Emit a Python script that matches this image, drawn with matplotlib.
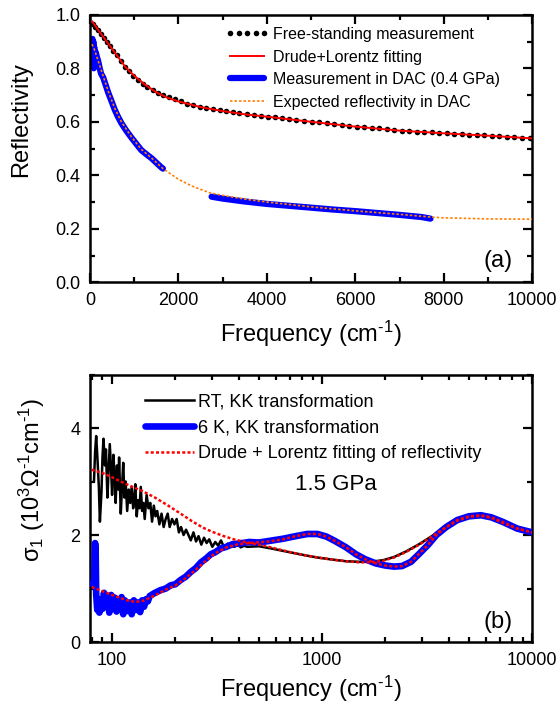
import numpy as np
import matplotlib
matplotlib.use("Agg")
import matplotlib.pyplot as plt
from matplotlib.ticker import MultipleLocator, LogLocator, NullFormatter, FixedLocator

plt.rcParams['font.family'] = ['Liberation Sans', 'DejaVu Sans']
plt.rcParams['mathtext.fontset'] = 'custom'
plt.rcParams['mathtext.rm'] = 'Liberation Sans'
plt.rcParams['mathtext.it'] = 'Liberation Sans'
plt.rcParams['mathtext.default'] = 'regular'

# ---- panel (a): reflectivity ----
fs_freq = [60, 110, 170, 240, 310, 380, 450, 530, 610, 700, 790, 880, 980, 1080,
           1190, 1300, 1420, 1540, 1660, 1790, 1920, 2060, 2200, 2340, 2480, 2630,
           2780, 2930, 3080, 3230, 3380, 3540, 3700, 3860, 4020, 4180, 4340, 4500,
           4670, 4840, 5010, 5180, 5350, 5520, 5690, 5860, 6030, 6200, 6370, 6540,
           6710, 6880, 7050, 7220, 7390, 7560, 7730, 7900, 8070, 8240, 8410, 8580,
           8750, 8920, 9090, 9260, 9430, 9600, 9770, 9940]
fs_refl = [0.965, 0.955, 0.943, 0.928, 0.912, 0.898, 0.885, 0.866, 0.848, 0.826,
           0.806, 0.790, 0.772, 0.758, 0.742, 0.730, 0.718, 0.708, 0.699, 0.691,
           0.684, 0.676, 0.667, 0.661, 0.656, 0.651, 0.647, 0.643, 0.640, 0.636,
           0.632, 0.628, 0.625, 0.622, 0.619, 0.617, 0.613, 0.610, 0.607, 0.604,
           0.601, 0.598, 0.594, 0.591, 0.588, 0.585, 0.582, 0.580, 0.577, 0.575,
           0.572, 0.570, 0.567, 0.565, 0.563, 0.561, 0.560, 0.558, 0.557, 0.555,
           0.553, 0.552, 0.550, 0.549, 0.548, 0.546, 0.545, 0.543, 0.541, 0.539]

fit_freq = [50, 200, 400, 600, 800, 1000, 1250, 1500, 1750, 2000, 2500, 3000,
            3500, 4000, 5000, 6000, 7000, 8000, 9000, 10000]
fit_refl = [0.975, 0.94, 0.895, 0.85, 0.805, 0.772, 0.738, 0.71, 0.69, 0.676,
            0.655, 0.64, 0.628, 0.619, 0.60, 0.582, 0.567, 0.557, 0.548, 0.538]

dac_lo_freq = [45, 55, 65, 75, 85, 95, 110, 130, 160, 180, 220, 250, 300, 350,
               410, 480, 560, 630, 710, 820, 940, 1050, 1160, 1280, 1390, 1500,
               1610, 1650]
dac_lo_refl = [0.88, 0.91, 0.83, 0.90, 0.80, 0.88, 0.82, 0.86, 0.84, 0.83, 0.80,
               0.78, 0.765, 0.74, 0.71, 0.68, 0.645, 0.62, 0.595, 0.567, 0.54,
               0.517, 0.494, 0.478, 0.464, 0.447, 0.43, 0.425]
dac_hi_freq = [2750, 3000, 3500, 4000, 4500, 5000, 5500, 6000, 6500, 7000, 7500, 7700]
dac_hi_refl = [0.32, 0.313, 0.302, 0.293, 0.286, 0.279, 0.272, 0.266, 0.259,
               0.252, 0.244, 0.238]

exp_freq = [45, 100, 200, 300, 410, 560, 710, 940, 1160, 1390, 1650, 2000, 2300,
            2700, 3000, 3500, 4000, 5000, 6000, 7000, 7700, 8000, 9000, 10000]
exp_refl = [0.89, 0.87, 0.82, 0.77, 0.715, 0.65, 0.60, 0.543, 0.497, 0.465, 0.425,
            0.385, 0.36, 0.335, 0.325, 0.311, 0.30, 0.282, 0.267, 0.254, 0.244,
            0.241, 0.237, 0.236]

# ---- panel (b): optical conductivity (10^3 Ohm^-1 cm^-1) ----
rt_freq = [82, 83, 84, 85, 86.5, 87.5, 89, 90, 91, 92.5, 93.5, 95, 96, 97.5, 99,
           100, 101.5, 103, 104, 105.5, 107, 108, 110, 111.5, 113, 114.5, 116, 118,
           120, 122, 124, 126, 128, 129, 131, 133, 135, 137, 139, 141, 143, 146,
           149, 152, 155, 158, 161, 164, 168, 172, 176, 180, 184, 188, 193, 198,
           203, 208, 213, 219, 225, 231, 237, 244, 251, 258, 266, 274, 282, 290,
           300, 310, 320, 330, 342, 355, 368, 382, 396, 410, 425, 440,
           500, 570, 640, 720, 820, 950, 1100, 1300, 1500, 1700, 1950, 2200, 2500,
           2900, 3300, 3800, 4400, 5000, 5700, 6400, 7300, 8500, 10000]
rt_sigma = [3.0, 3.55, 3.85, 3.5, 2.9, 2.25, 2.8, 3.45, 3.8, 3.3, 3.6, 2.7, 3.1,
            3.7, 3.2, 2.75, 3.5, 3.0, 2.6, 3.3, 2.85, 3.45, 2.4, 2.9, 3.35, 2.7,
            3.0, 2.45, 2.85, 2.6, 2.9, 2.5, 2.75, 2.95, 2.35, 2.65, 2.5, 2.9, 2.45,
            2.6, 2.3, 2.75, 2.5, 2.6, 2.25, 2.55, 2.35, 2.45, 2.2, 2.4, 2.15, 2.3,
            2.4, 2.15, 2.3, 2.2, 2.3, 2.05, 2.15, 2.0, 2.1, 2.0, 1.9, 2.05, 1.88,
            1.98, 1.82, 1.95, 1.85, 1.92, 1.78, 1.87, 1.8, 1.9, 1.76, 1.84, 1.8,
            1.78, 1.82, 1.77, 1.8, 1.78,
            1.79, 1.75, 1.71, 1.67, 1.625, 1.58, 1.545, 1.51, 1.50, 1.50, 1.53,
            1.59, 1.69, 1.83, 1.97, 2.13, 2.28, 2.35, 2.36, 2.32, 2.22, 2.12, 2.05]

lt_freq = [81, 82, 83, 83.5, 84, 85, 86, 87, 88.5, 90, 91.5, 93, 95, 97, 99, 101,
           103, 105, 107, 109, 111, 113, 115, 118, 121, 124, 127, 130, 133, 136,
           139, 142, 145, 148, 151, 160, 170, 180, 190, 200, 212, 224, 237, 250,
           265, 280, 295, 310, 330, 350, 375, 400, 450, 500, 560, 650, 750, 850,
           950, 1050, 1150, 1300, 1450, 1600, 1800, 2000, 2200, 2400, 2650, 2900,
           3200, 3500, 3900, 4400, 5000, 5700, 6400, 7300, 8500, 10000]
lt_sigma = [1.1, 1.05, 1.85, 1.7, 0.9, 0.6, 0.75, 0.55, 0.8, 0.62, 0.92, 0.68, 0.85,
            0.55, 0.88, 0.62, 0.83, 0.57, 0.8, 0.64, 0.84, 0.52, 0.78, 0.58, 0.74,
            0.52, 0.78, 0.6, 0.74, 0.56, 0.78, 0.66, 0.8, 0.76, 0.86, 0.92, 0.97,
            1.0, 1.06, 1.08, 1.16, 1.22, 1.31, 1.38, 1.49, 1.56, 1.64, 1.68, 1.75,
            1.78, 1.83, 1.84, 1.87, 1.86, 1.89, 1.93, 1.98, 2.02, 2.02, 1.97, 1.89,
            1.77, 1.64, 1.55, 1.47, 1.43, 1.41, 1.42, 1.5, 1.65, 1.82, 2.0, 2.15,
            2.28, 2.35, 2.37, 2.33, 2.24, 2.12, 2.05]

rtfit_freq = [80, 90, 100, 110, 125, 140, 160, 185, 210, 240, 270, 300, 340, 380,
              430, 500, 570, 640, 720, 820, 950, 1100, 1300, 1500, 1700, 1950,
              2200, 2500, 2900, 3300, 3800, 4400, 5000, 5700, 6400, 7300, 8500, 10000]
rtfit_sigma = [3.22, 3.16, 3.08, 3.0, 2.9, 2.82, 2.7, 2.55, 2.41, 2.26, 2.14, 2.06,
               1.98, 1.92, 1.87, 1.82, 1.77, 1.72, 1.67, 1.625, 1.58, 1.545, 1.51,
               1.49, 1.49, 1.52, 1.58, 1.68, 1.82, 1.96, 2.12, 2.27, 2.34, 2.36,
               2.32, 2.22, 2.12, 2.05]

ltfit_freq = [80, 90, 100, 110, 120, 130, 140, 150, 165, 180, 200, 225, 250, 280,
              310, 350, 400, 480, 560, 650, 750, 850, 950, 1050, 1150, 1300, 1450,
              1600, 1800, 2000, 2200, 2400, 2650, 2900, 3200, 3500, 3900, 4400,
              5000, 5700, 6400, 7300, 8500, 10000]
ltfit_sigma = [1.03, 0.95, 0.88, 0.82, 0.77, 0.75, 0.77, 0.82, 0.9, 0.98, 1.06,
               1.2, 1.35, 1.52, 1.66, 1.77, 1.83, 1.86, 1.88, 1.92, 1.98, 2.02,
               2.02, 1.97, 1.89, 1.77, 1.64, 1.55, 1.47, 1.43, 1.41, 1.42, 1.5,
               1.65, 1.82, 2.0, 2.15, 2.28, 2.35, 2.37, 2.33, 2.24, 2.12, 2.05]

freq_label = r'Frequency (cm$^{\text{-1}}$)'


def style_axes(ax):
    for s in ax.spines.values():
        s.set_linewidth(1.8)
    ax.tick_params(which='both', direction='in', top=True, right=True,
                   labelsize=13, width=1.6, pad=7)
    ax.tick_params(which='major', length=6.5)
    ax.tick_params(which='minor', length=3.5)


fig = plt.figure(figsize=(5.59, 7.04), dpi=100)
ax1 = fig.add_axes([0.161, 0.599, 0.791, 0.380])
ax2 = fig.add_axes([0.161, 0.088, 0.791, 0.380])

# (a)
ax1.plot(fs_freq, fs_refl, 'o', color='black', ms=4, mew=0,
         label='Free-standing measurement', zorder=3)
ax1.plot(fit_freq, fit_refl, '-', color='red', lw=1.4,
         label='Drude+Lorentz fitting', zorder=4)
ax1.plot(dac_lo_freq, dac_lo_refl, '-', color='#0000ff', lw=4.5,
         solid_capstyle='round', label='Measurement in DAC (0.4 GPa)', zorder=2)
ax1.plot(dac_hi_freq, dac_hi_refl, '-', color='#0000ff', lw=4.5,
         solid_capstyle='round', zorder=2)
ax1.plot(exp_freq, exp_refl, color='#ff8000', lw=1.2, ls=(0, (1.5, 1.2)),
         label='Expected reflectivity in DAC', zorder=5)

ax1.set_xlim(0, 10000)
ax1.set_ylim(0, 1.0)
ax1.xaxis.set_major_locator(MultipleLocator(2000))
ax1.xaxis.set_minor_locator(MultipleLocator(1000))
ax1.yaxis.set_major_locator(MultipleLocator(0.2))
ax1.yaxis.set_minor_locator(MultipleLocator(0.1))
ax1.yaxis.set_major_formatter(plt.FuncFormatter(lambda v, p: '%.1f' % v))
style_axes(ax1)
ax1.set_xlabel(freq_label, fontsize=17, labelpad=7)
ax1.set_ylabel('Reflectivity', fontsize=17)
ax1.yaxis.set_label_coords(-0.131, 0.61)
ax1.legend(loc='upper right', bbox_to_anchor=(0.95, 0.99), frameon=False,
           fontsize=11.5, numpoints=5, handlelength=2.7, handletextpad=0.3,
           labelspacing=0.47, borderaxespad=0.2)
ax1.text(0.955, 0.08, '(a)', transform=ax1.transAxes, fontsize=17,
         ha='right', va='center')

# (b)
ax2.plot(rt_freq, rt_sigma, '-', color='black', lw=1.8,
         label='RT, KK transformation', zorder=2)
ax2.plot(lt_freq, lt_sigma, '-', color='#0000ff', lw=4.8,
         solid_capstyle='round', label='6 K, KK transformation', zorder=3)
ax2.plot(rtfit_freq, rtfit_sigma, color='red', lw=1.8, ls=(0, (1.2, 0.9)),
         label='Drude + Lorentz fitting of reflectivity', zorder=4)
ax2.plot(ltfit_freq, ltfit_sigma, color='red', lw=1.8, ls=(0, (1.2, 0.9)), zorder=4)

ax2.set_xscale('log')
ax2.set_xlim(78.5, 10000)
ax2.set_ylim(0, 5)
ax2.xaxis.set_major_locator(FixedLocator([100, 1000, 10000]))
ax2.xaxis.set_major_formatter(plt.FuncFormatter(lambda v, p: '%d' % v))
ax2.xaxis.set_minor_locator(LogLocator(base=10, subs=np.arange(2, 10)))
ax2.xaxis.set_minor_formatter(NullFormatter())
ax2.yaxis.set_major_locator(MultipleLocator(2))
ax2.yaxis.set_minor_locator(MultipleLocator(1))
style_axes(ax2)
ax2.set_xlabel(freq_label, fontsize=17, labelpad=3.5)
ax2.set_ylabel(r'$\sigma_1$ (10$^3\Omega^{\text{-1}}$cm$^{\text{-1}}$)', fontsize=17)
ax2.yaxis.set_label_coords(-0.097, 0.607)
ax2.legend(loc='upper left', bbox_to_anchor=(0.10, 0.97), frameon=False,
           fontsize=13, handlelength=2.7, handletextpad=0.25,
           labelspacing=0.5, borderaxespad=0.2)
ax2.text(0.557, 0.59, '1.5 GPa', transform=ax2.transAxes, fontsize=16,
         ha='center', va='center')
ax2.text(0.955, 0.075, '(b)', transform=ax2.transAxes, fontsize=17,
         ha='right', va='center')

fig.savefig('out.png', dpi=100)
